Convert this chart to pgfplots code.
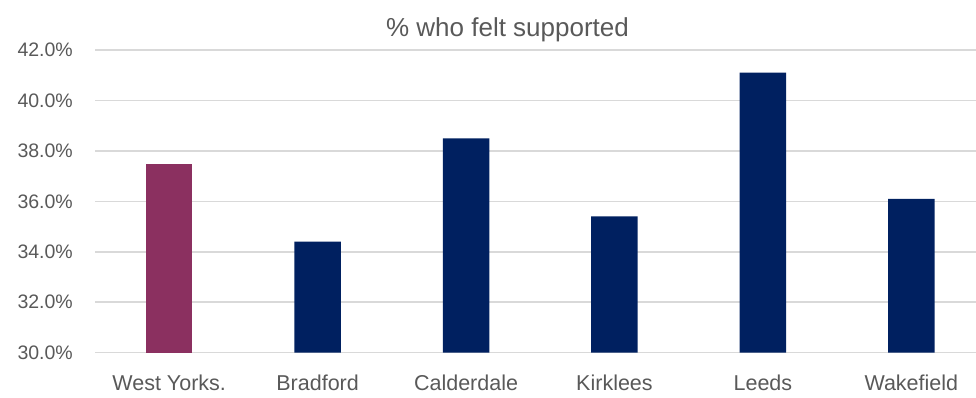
\documentclass[border=0pt]{standalone}
\usepackage{fontspec}
\setmainfont{Liberation Sans}
\usepackage{pgfplots}
\pgfplotsset{compat=1.18}
\definecolor{maroon}{HTML}{8B3060}
\definecolor{navy}{HTML}{002060}
\definecolor{gridc}{HTML}{D9D9D9}
\definecolor{txt}{HTML}{595959}
\begin{document}
\begin{tikzpicture}[x=1pt,y=1pt]
\useasboundingbox (0,0) rectangle (976,398);
\begin{axis}[
  at={(95pt,45.3pt)}, anchor=south west,
  scale only axis, width=881pt, height=302.7pt,
  xmin=-0.5, xmax=5.436, ymin=30, ymax=42,
  ytick={30,32,34,36,38,40,42},
  xtick={0,1,2,3,4,5},
  xticklabels={West Yorks.,Bradford,Calderdale,Kirklees,Leeds,Wakefield},
  axis line style={draw=none},
  tick style={draw=none},
  ymajorgrids,
  grid style={gridc, line width=1.5pt},
  /pgf/number format/assume math mode=true,
  yticklabel={\pgfmathprintnumber[fixed,fixed zerofill,precision=1]{\tick}\%},
  yticklabel style={font=\fontsize{19.5}{20}\selectfont, text=txt, anchor=east, inner sep=0pt, xshift=-22pt},
  xticklabel style={font=\fontsize{21.5}{22}\selectfont, text=txt, anchor=north, inner sep=0pt, text height=15.5pt, text depth=4pt, yshift=-22pt},
  clip=true,
]
\addplot[ybar, bar width=46.5pt, bar shift=0pt, fill=maroon, draw=none] coordinates {(0,37.5)};
\addplot[ybar, bar width=46.5pt, bar shift=0pt, fill=navy, draw=none] coordinates {(1,34.4) (2,38.5) (3,35.4) (4,41.1) (5,36.1)};
\end{axis}
\node[anchor=base, text=txt, inner sep=0pt, font=\fontsize{26}{28}\selectfont] at (507.5,361.3) {\% who felt supported};
\end{tikzpicture}
\end{document}
